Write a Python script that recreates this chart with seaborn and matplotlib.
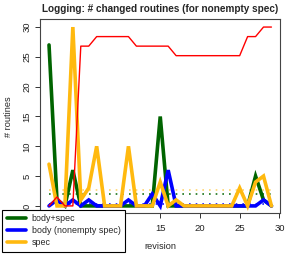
import numpy as np
import pandas as pd
import matplotlib
matplotlib.use('Agg')
import matplotlib.pyplot as plt
from matplotlib.lines import Line2D
import seaborn as sns

# Values
revision = [1, 2, 3, 4, 5, 6, 7, 8, 9, 10, 11, 12, 13, 14, 15,
            16, 17, 18, 19, 20, 21, 22, 23, 24, 25, 26, 27, 28, 29]
body_spec = [27, 1, 0, 6, 0, 0, 0, 0, 0, 0, 0, 0, 0, 0, 15,
             0, 0, 0, 0, 0, 0, 0, 0, 0, 0, 0, 5, 1, 0]
body_only = [0, 1, 0, 1, 0, 1, 0, 0, 0, 0, 1, 0, 0, 2, 0,
             6, 0, 0, 0, 0, 0, 0, 0, 0, 0, 0, 0, 1, 0]
spec_only = [7, 0, 0, 30, 1, 3, 10, 0, 0, 0, 10, 0, 0, 0, 4,
             0, 1, 0, 0, 0, 0, 0, 0, 0, 3, 0, 4, 5, 0]
total = [0, 1.5, 0, 0, 26.8, 26.8, 28.4, 28.4, 28.4, 28.4, 28.4, 26.8, 26.8, 26.8, 26.8,
         26.8, 25.2, 25.2, 25.2, 25.2, 25.2, 25.2, 25.2, 25.2, 25.2, 28.4, 28.4, 30, 30]
# dotted reference levels (averages)
avg_levels = {'body+spec': 2.0, 'body (nonempty spec)': 0.3, 'spec': 2.75}

series_names = ['body+spec', 'body (nonempty spec)', 'spec']
series_colors = ['#006400', '#0000FF', '#FFB90F']
series_values = [body_spec, body_only, spec_only]

sns.set_theme(style='ticks')
plt.rcParams['font.family'] = ['Liberation Sans', 'DejaVu Sans']

fig = plt.figure(figsize=(2.94, 2.54), dpi=100)
ax = fig.add_axes([0.137, 0.160, 0.816, 0.764])

df = pd.DataFrame({'revision': revision, 'body+spec': body_spec,
                   'body (nonempty spec)': body_only, 'spec': spec_only,
                   'total': total})

# dotted average lines
for name, col in zip(series_names, series_colors):
    lvl = pd.DataFrame({'revision': [revision[0], revision[-1]],
                        'v': [avg_levels[name], avg_levels[name]]})
    sns.lineplot(data=lvl, x='revision', y='v', ax=ax, color=col,
                 linestyle=(0, (1, 3)), linewidth=1.2,
                 alpha=0.6 if name == 'spec' else 0.9)

for name, col in zip(series_names, series_colors):
    sns.lineplot(data=df, x='revision', y=name, ax=ax, color=col,
                 linewidth=2.6, solid_joinstyle='miter')
sns.lineplot(data=df, x='revision', y='total', ax=ax, color='#FF0000', linewidth=1.0)

ax.set_xlim(-0.1, 30.1)
ax.set_ylim(-1.25, 31.3)
ax.set_xticks([0, 5, 10, 15, 20, 25, 30])
ax.set_yticks([0, 5, 10, 15, 20, 25, 30])
ax.set_yticklabels(['0', '5', '10', '15', '20', '25', '30'], rotation=90, va='center')
ax.tick_params(labelsize=6.8, length=3.5, width=0.7, color='#333333',
               labelcolor='#222222')
ax.tick_params(axis='x', pad=4)
ax.tick_params(axis='y', pad=3)
for s in ax.spines.values():
    s.set_color('#444444')
    s.set_linewidth(0.8)
ax.set_xlabel('revision', fontsize=6.6, labelpad=7)
ax.set_ylabel('# routines', fontsize=6.6, labelpad=7)
ax.set_title('Logging: # changed routines (for nonempty spec)', fontsize=7.2,
             fontweight='bold', pad=5)

handles = [Line2D([0], [0], color=c, linewidth=2.6) for c in series_colors]
leg = fig.legend(handles, series_names, loc='lower left',
                 bbox_to_anchor=(0.008, 0.009), fontsize=6.4, frameon=True,
                 fancybox=False, edgecolor='black', framealpha=1,
                 handlelength=2.1, handletextpad=0.65, labelspacing=0.3,
                 borderpad=0.55, borderaxespad=0)
leg.get_frame().set_linewidth(0.8)

fig.savefig('out.png', dpi=100)
